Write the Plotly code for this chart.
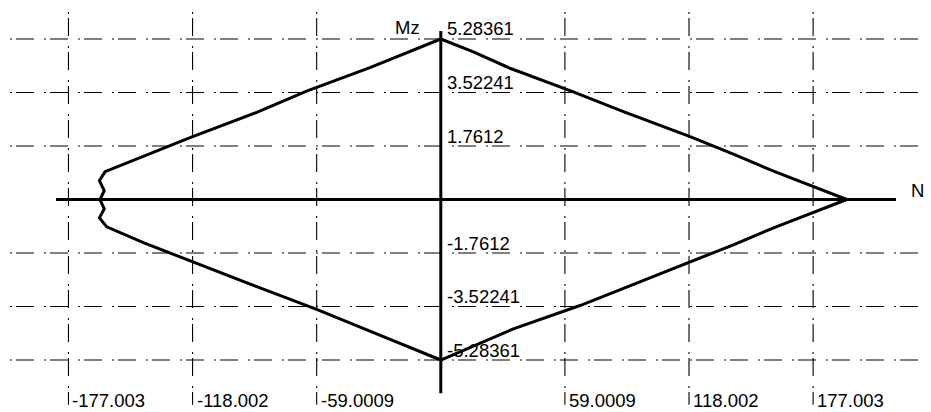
import plotly.graph_objects as go

# Interaction diagram N - Mz (section capacity envelope)
tick_n = [-177.003, -118.002, -59.0009, 59.0009, 118.002, 177.003]
tick_mz = [5.28361, 3.52241, 1.7612, -1.7612, -3.52241, -5.28361]

# envelope branches (N, Mz), traced peak -> tip -> bottom -> left -> peak
upper_right_n = [0.0, 15.5, 32.9, 63.0, 86.8, 118.5, 139.1, 159.7, 193.0]
upper_right_mz = [5.28361, 4.86, 4.32, 3.54, 2.89, 2.07, 1.49, 0.89, 0.0]

lower_right_n = [159.7, 139.1, 118.5, 89.9, 66.2, 34.5, 18.6, 0.0]
lower_right_mz = [-0.89, -1.49, -2.06, -2.83, -3.49, -4.26, -4.73, -5.28361]

lower_left_n = [-33.7, -59.0, -87.5, -119.2, -141.4, -158.8]
lower_left_mz = [-4.33, -3.62, -2.87, -2.03, -1.42, -0.90]

left_n = [-162.3, -160.0, -162.0, -160.0, -162.3, -159.6]
left_mz = [-0.60, -0.31, 0.0, 0.29, 0.62, 0.915]

upper_left_n = [-141.4, -119.2, -87.5, -63.8, -33.7, 0.0]
upper_left_mz = [1.42, 2.04, 2.87, 3.57, 4.34, 5.28361]

env_n = upper_right_n + lower_right_n + lower_left_n + left_n + upper_left_n
env_mz = upper_right_mz + lower_right_mz + lower_left_mz + left_mz + upper_left_mz

# drawing extents
X_MIN, X_MAX = -209.55, 233.04
Y_MIN, Y_MAX = -6.995, 6.567
GRID_X = (-204.8, 231.2)
GRID_Y = (6.17, -6.76)
AXIS_N = (-182.9, 216.4)
AXIS_MZ = (5.546, -6.38)

FONT = dict(family="Liberation Sans, Arial, sans-serif", size=18.5, color="black")
GRID_DASH = "2px,4px,18px,10px"

fig = go.Figure()

for v in tick_mz:
    fig.add_trace(go.Scatter(x=list(GRID_X), y=[v, v], mode="lines",
                             line=dict(color="black", width=1.1, dash=GRID_DASH),
                             hoverinfo="skip"))
for v in tick_n:
    fig.add_trace(go.Scatter(x=[v, v], y=list(GRID_Y), mode="lines",
                             line=dict(color="black", width=1.1, dash=GRID_DASH),
                             hoverinfo="skip"))

# main axes
fig.add_trace(go.Scatter(x=list(AXIS_N), y=[0, 0], mode="lines",
                         line=dict(color="black", width=3), hoverinfo="skip"))
fig.add_trace(go.Scatter(x=[0, 0], y=list(AXIS_MZ), mode="lines",
                         line=dict(color="black", width=3), hoverinfo="skip"))

# envelope
fig.add_trace(go.Scatter(x=env_n, y=env_mz, mode="lines",
                         line=dict(color="black", width=3), hoverinfo="skip"))

annotations = []
for v in tick_mz:
    annotations.append(dict(x=0, y=v, text=f"{v:g}", showarrow=False,
                            xanchor="left", yanchor="middle", xshift=4, yshift=10,
                            font=FONT))
# N tick labels sit along the bottom edge
for v in tick_n:
    annotations.append(dict(x=v, y=0, yref="paper", text=f"{v:g}", showarrow=False,
                            xanchor="left", yanchor="bottom", xshift=3, borderpad=0,
                            font=FONT))
annotations.append(dict(x=0, y=AXIS_MZ[0], text="Mz", showarrow=False,
                        xanchor="right", yanchor="middle", xshift=-19, yshift=4,
                        font=FONT))
annotations.append(dict(x=AXIS_N[1], y=0, text="N", showarrow=False,
                        xanchor="left", yanchor="middle", xshift=13, yshift=9,
                        font=FONT))

fig.update_layout(
    width=931, height=412,
    margin=dict(l=0, r=0, t=0, b=0, pad=0),
    paper_bgcolor="white", plot_bgcolor="white",
    showlegend=False,
    annotations=annotations,
    xaxis=dict(range=[X_MIN, X_MAX], visible=False, fixedrange=True),
    yaxis=dict(range=[Y_MIN, Y_MAX], visible=False, fixedrange=True),
)

fig.write_html("out.html")
